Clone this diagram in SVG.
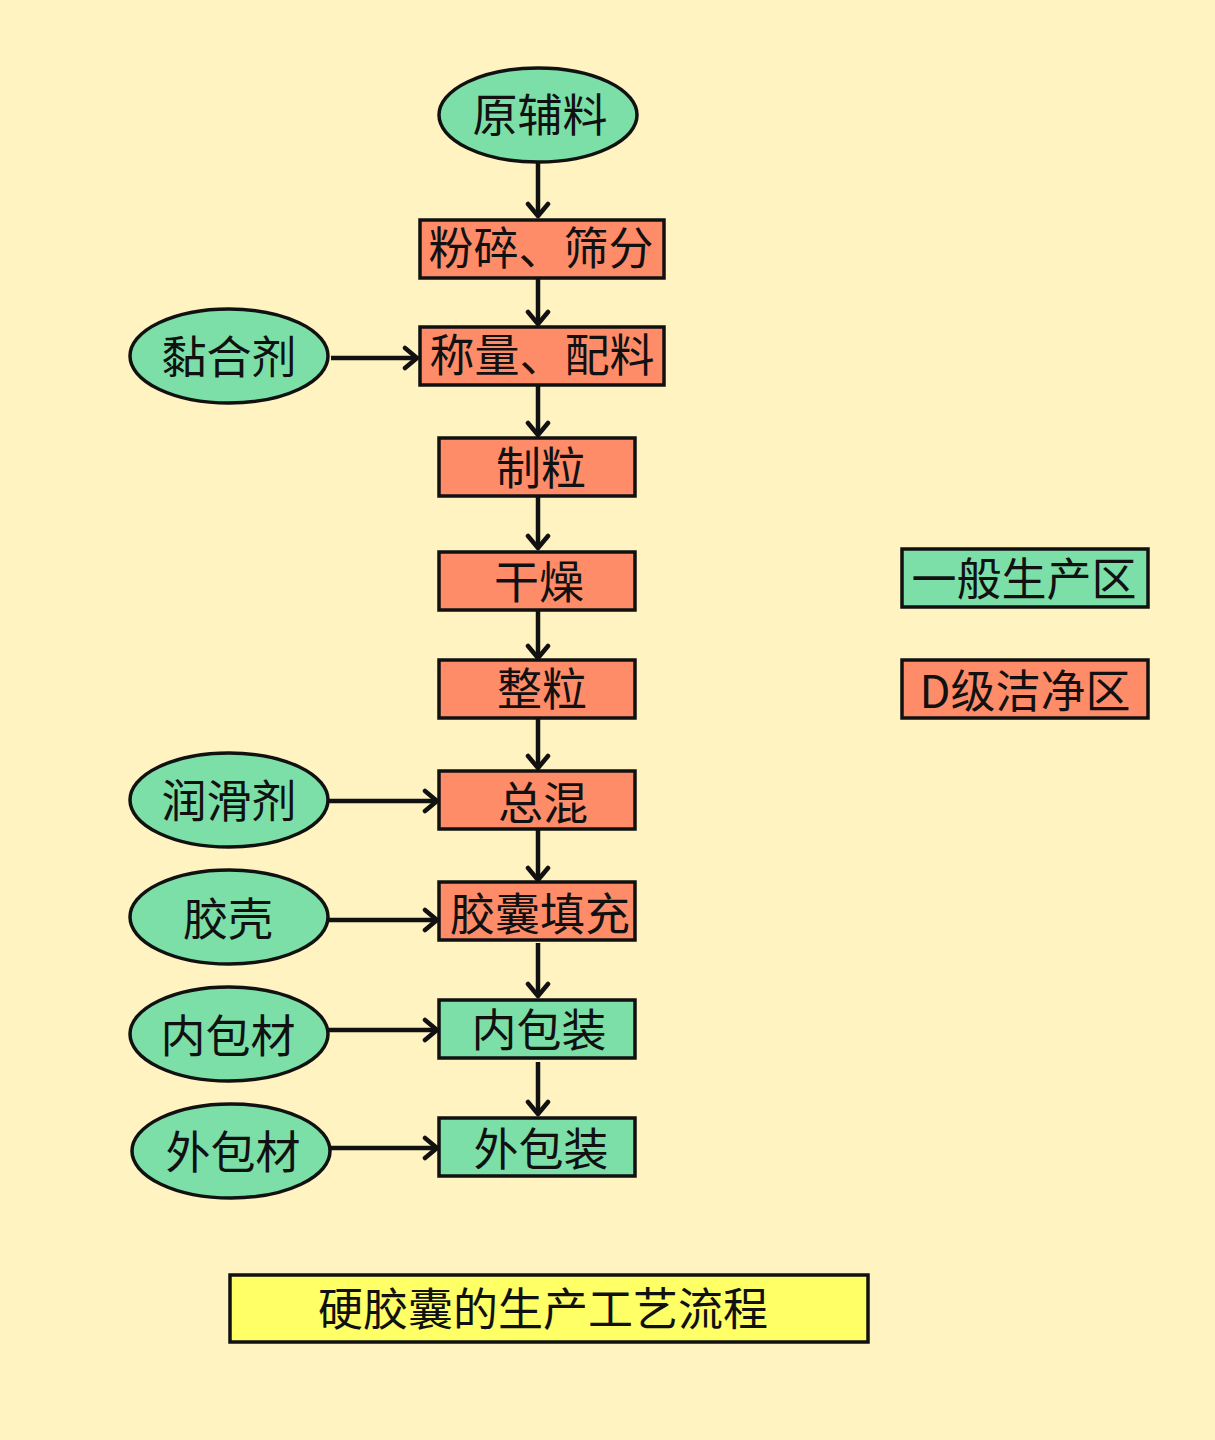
<svg xmlns="http://www.w3.org/2000/svg" width="1215" height="1440" viewBox="0 0 1215 1440">
<defs>
<style>
.g{fill:#7CDFA7;stroke:#111;stroke-width:3.5}
.s{fill:#FF8C69;stroke:#111;stroke-width:3.5}
.y{fill:#FFFF66;stroke:#111;stroke-width:3.5}
text{font-family:"Noto Sans CJK SC","Noto Sans",sans-serif;font-size:45px;fill:#111;text-anchor:middle}
.c line{stroke:#111;stroke-width:4.5;marker-end:url(#ah)}
</style>
<marker id="ah" viewBox="0 0 18 26" refX="15" refY="13" markerWidth="18" markerHeight="26" markerUnits="userSpaceOnUse" orient="auto">
<path d="M3,3 L15,13 L3,23" fill="none" stroke="#111" stroke-width="4.5" stroke-linecap="round" stroke-linejoin="round"/>
</marker>
</defs>
<rect width="1215" height="1440" fill="#FEF3C1"/>
<g id="n-yuanfuliao"><ellipse class="g" cx="538" cy="115" rx="99" ry="47"/><text x="540" y="132">原辅料</text></g>
<g id="n-fensui"><rect class="s" x="420" y="220" width="244" height="58"/><text x="541" y="265">粉碎、筛分</text></g>
<g id="n-chengliang"><rect class="s" x="420" y="327" width="244" height="58"/><text x="542" y="372">称量、配料</text></g>
<g id="n-nianheji"><ellipse class="g" cx="229" cy="356" rx="99" ry="47"/><text x="229" y="374">黏合剂</text></g>
<g id="n-zhili"><rect class="s" x="439" y="438" width="196" height="58"/><text x="541" y="485">制粒</text></g>
<g id="n-ganzao"><rect class="s" x="439" y="552" width="196" height="58"/><text x="539" y="599">干燥</text></g>
<g id="n-zhengli"><rect class="s" x="439" y="660" width="196" height="58"/><text x="542" y="706">整粒</text></g>
<g id="n-zonghun"><rect class="s" x="439" y="771" width="196" height="58"/><text x="543" y="820">总混</text></g>
<g id="n-tianchong"><rect class="s" x="439" y="882" width="196" height="58"/><text x="540" y="931">胶囊填充</text></g>
<g id="n-neibaozhuang"><rect class="g" x="439" y="1000" width="196" height="58"/><text x="539" y="1047">内包装</text></g>
<g id="n-waibaozhuang"><rect class="g" x="439" y="1118" width="196" height="58"/><text x="541" y="1166">外包装</text></g>
<g id="n-runhuaji"><ellipse class="g" cx="229" cy="800" rx="99" ry="47"/><text x="229" y="818">润滑剂</text></g>
<g id="n-jiaoke"><ellipse class="g" cx="229" cy="917" rx="99" ry="47"/><text x="228" y="936">胶壳</text></g>
<g id="n-neibaocai"><ellipse class="g" cx="229" cy="1034" rx="99" ry="47"/><text x="228" y="1053">内包材</text></g>
<g id="n-waibaocai"><ellipse class="g" cx="231" cy="1151" rx="99" ry="47"/><text x="233" y="1169">外包材</text></g>
<g id="legend-general"><rect class="g" x="902" y="549" width="246" height="58"/><text x="1024" y="596">一般生产区</text></g>
<g id="legend-d"><rect class="s" x="902" y="660" width="246" height="58"/><text x="1025" y="708">D级洁净区</text></g>
<g id="title"><rect class="y" x="230" y="1275" width="638" height="67"/><text x="543" y="1326">硬胶囊的生产工艺流程</text></g>
<g id="connectors" class="c">
<line x1="538" y1="162" x2="538" y2="216"/>
<line x1="538" y1="278" x2="538" y2="324"/>
<line x1="538" y1="385" x2="538" y2="435"/>
<line x1="538" y1="496" x2="538" y2="548"/>
<line x1="538" y1="610" x2="538" y2="658"/>
<line x1="538" y1="718" x2="538" y2="768"/>
<line x1="538" y1="829" x2="538" y2="880"/>
<line x1="538" y1="943" x2="538" y2="996"/>
<line x1="538" y1="1062" x2="538" y2="1114"/>
<line x1="331" y1="358" x2="417" y2="358"/>
<line x1="328" y1="801" x2="437" y2="801"/>
<line x1="328" y1="920" x2="437" y2="920"/>
<line x1="328" y1="1030" x2="437" y2="1030"/>
<line x1="331" y1="1148" x2="437" y2="1148"/>
</g>
</svg>
